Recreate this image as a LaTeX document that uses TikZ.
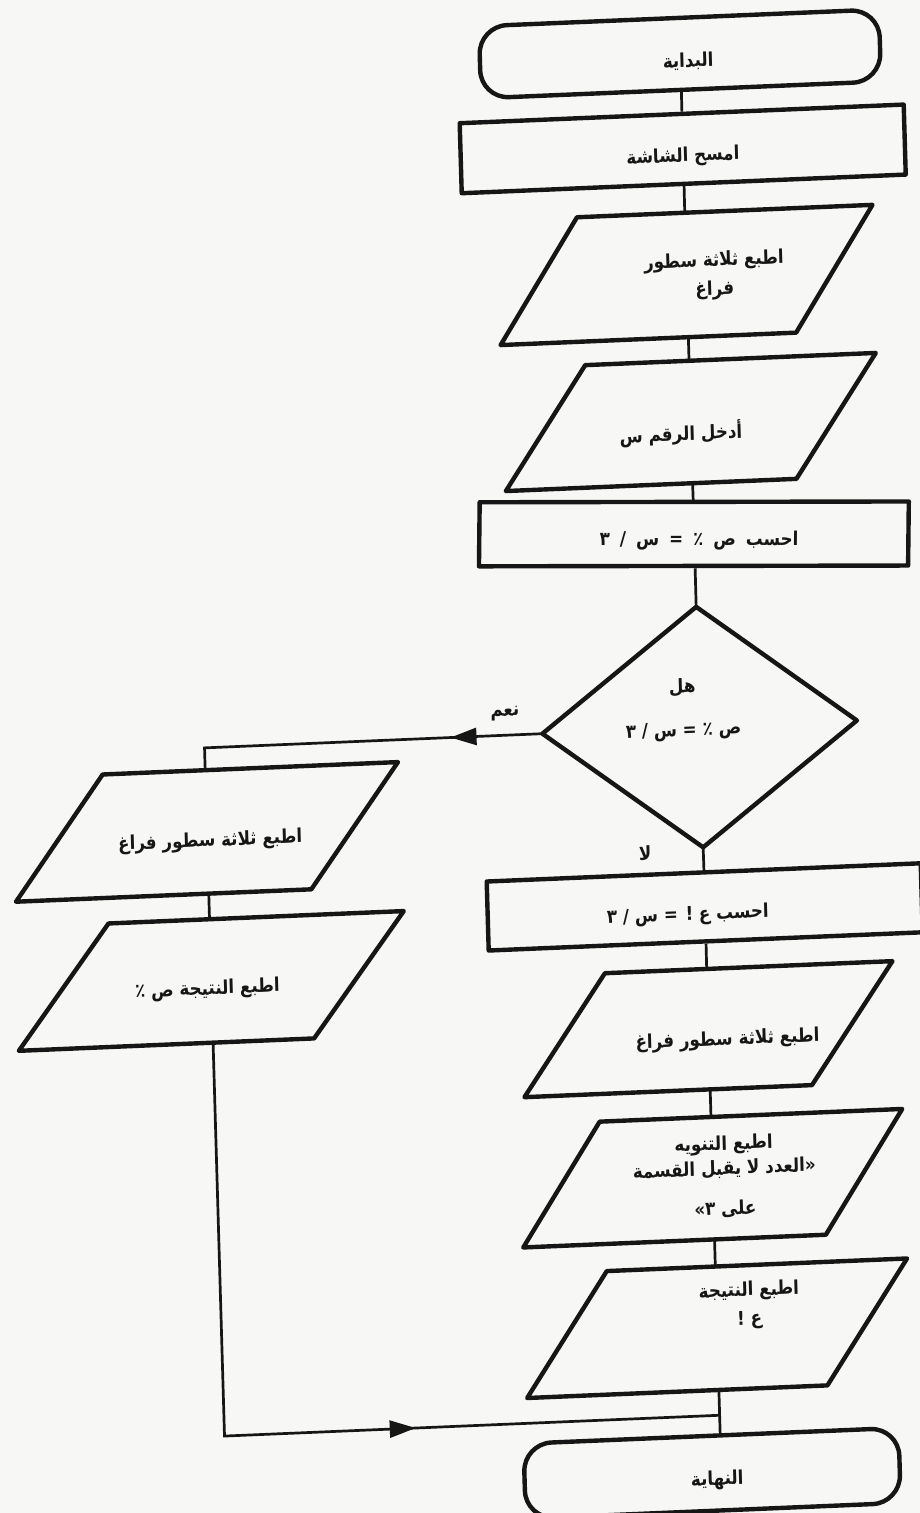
\documentclass[tikz,border=0pt]{standalone}
\usepackage{fontspec}
\usetikzlibrary{calc,decorations.markings,arrows.meta}
\TeXXeTstate=1
\newfontfamily\arabicfont[Script=Arabic,FakeStretch=0.88]{DejaVu Sans}
\newcommand\rtltext[1]{\beginR #1\endR}
\definecolor{paper}{RGB}{247,247,245}
\definecolor{ink}{RGB}{22,22,22}

% parallelogram drawn on the frame of an invisible node (#2 = slant as a fraction of width)
\newcommand\ioshape[2]{%
  \draw[outline] ($(#1.north west)!#2!(#1.north east)$) -- (#1.north east)
    -- ($(#1.south east)!#2!(#1.south west)$) -- (#1.south west) -- cycle;}

\begin{document}
\begin{tikzpicture}[x=1pt,y=-1pt,
  outline/.style={draw=ink, line width=4.4pt, line join=round},
  flow/.style={draw=ink, line width=2.7pt},
  slot/.style 2 args={shape=rectangle, minimum width=#1, minimum height=#2, inner sep=0pt},
  proc/.style 2 args={slot={#1}{#2}, outline},
  term/.style 2 args={slot={#1}{#2}, outline, rounded corners=28pt},
  txt/.style={font=\arabicfont\bfseries\fontsize{19}{29}\selectfont, text=ink, align=center, inner sep=0pt},
  midarrow/.style={postaction={decorate}, decoration={markings,
      mark=at position #1 with {\arrow{Triangle[length=26pt,width=17pt]}}}}]

\fill[paper] (0,0) rectangle (920,1513);
\useasboundingbox (0,0) rectangle (920,1513);

\begin{scope}[cm={1,0.042,-0.029,1,(-21.9pt,-19.3pt)},
  every node/.append style={transform shape}]

% main column
\node[term={400}{72}] (start) at (700,64) {};
\node[txt] (tstart) at (708,72) {\rtltext{البداية}};

\node[proc={444}{70}] (clear) at (700,159) {};
\node[txt] (tclear) at (700,167) {\rtltext{امسح الشاشة}};

\node[slot={375}{124}] (blank1) at (700,285) {};
\ioshape{blank1}{0.213}
\node[txt] (tblank1) at (728,287) {\rtltext{اطبع ثلاثة سطور}\\\rtltext{فراغ}};

\node[slot={373}{122}] (input) at (700,432) {};
\ioshape{input}{0.222}
\node[txt] (tinput) at (690,443) {\rtltext{أدخل الرقم س}};

\node[proc={429}{64}, rotate=-2.3] (calcy) at (700,544) {};
\node[txt, rotate=-2.3] (tcalcy) at (705,551) {\spaceskip=10pt\rtltext{احسب ص ٪ = س / ٣}};

\node[slot={314}{240}] (test) at (700,737) {};
\draw[outline] (test.north) -- (test.east) -- (test.south) -- (test.west) -- cycle;
\node[txt] (ttest) at (684,719) {\rtltext{هل}\\[14pt]\rtltext{ص ٪ = س / ٣}};

\node[proc={434}{69}] (calcz) at (700,917) {};
\node[txt] (tcalcz) at (683,925) {\rtltext{احسب ع ! = س / ٣}};

\node[slot={371}{120}] (blank2) at (700,1039) {};
\ioshape{blank2}{0.226}
\node[txt] (tblank2) at (719,1051) {\rtltext{اطبع ثلاثة سطور فراغ}};

\node[slot={382}{122}] (note) at (700,1188) {};
\ioshape{note}{0.209}
\node[txt] (tnote) at (712,1187) {\rtltext{اطبع التنويه}\\[-4pt]\rtltext{«العدد لا يقبل القسمة}\\[11pt]\rtltext{على ٣»}};

\node[slot={383}{123}] (resz) at (700,1338) {};
\ioshape{resz}{0.217}
\node[txt] (tresz) at (733,1317) {\rtltext{اطبع النتيجة}\\\rtltext{ع !}};

\node[term={375}{75}] (stop) at (691,1483) {};
\node[txt] (tstop) at (696,1490) {\rtltext{النهاية}};

% left column (yes branch)
\node[slot={385}{123}] (blank3) at (205,821) {};
\ioshape{blank3}{0.234}
\node[txt] (tblank3) at (208,831) {\rtltext{اطبع ثلاثة سطور فراغ}};

\node[slot={388}{123}] (resy) at (205,970) {};
\ioshape{resy}{0.240}
\node[txt] (tresy) at (201,979) {\rtltext{اطبع النتيجة ص ٪}};

% branch labels
\node[txt] (yes) at (506,716) {\rtltext{نعم}};
\node[txt] (no) at (642,861) {\rtltext{لا}};

\coordinate (join) at (700,1425);

% connectors
\draw[flow] (start) -- (clear);
\draw[flow] (clear) -- (blank1.north);
\draw[flow] (blank1.south) -- (input.north);
\draw[flow] (input.south) -- (calcy);
\draw[flow] (calcy) -- (test.north);
\draw[flow] (test.south) -- (calcz);
\draw[flow] (calcz) -- (blank2.north);
\draw[flow] (blank2.south) -- (note.north);
\draw[flow] (note.south) -- (resz.north);
\draw[flow] (resz.south) -- (resz.south |- stop.north);
\draw[flow] (blank3.south) -- (resy.north);
\draw[flow, midarrow=92pt] (test.west) -- (test.west -| blank3.north) -- (blank3.north);
\draw[flow, midarrow=585pt] (resy.south) -- (resy.south |- join) -- (join);
\end{scope}
\end{tikzpicture}
\end{document}
